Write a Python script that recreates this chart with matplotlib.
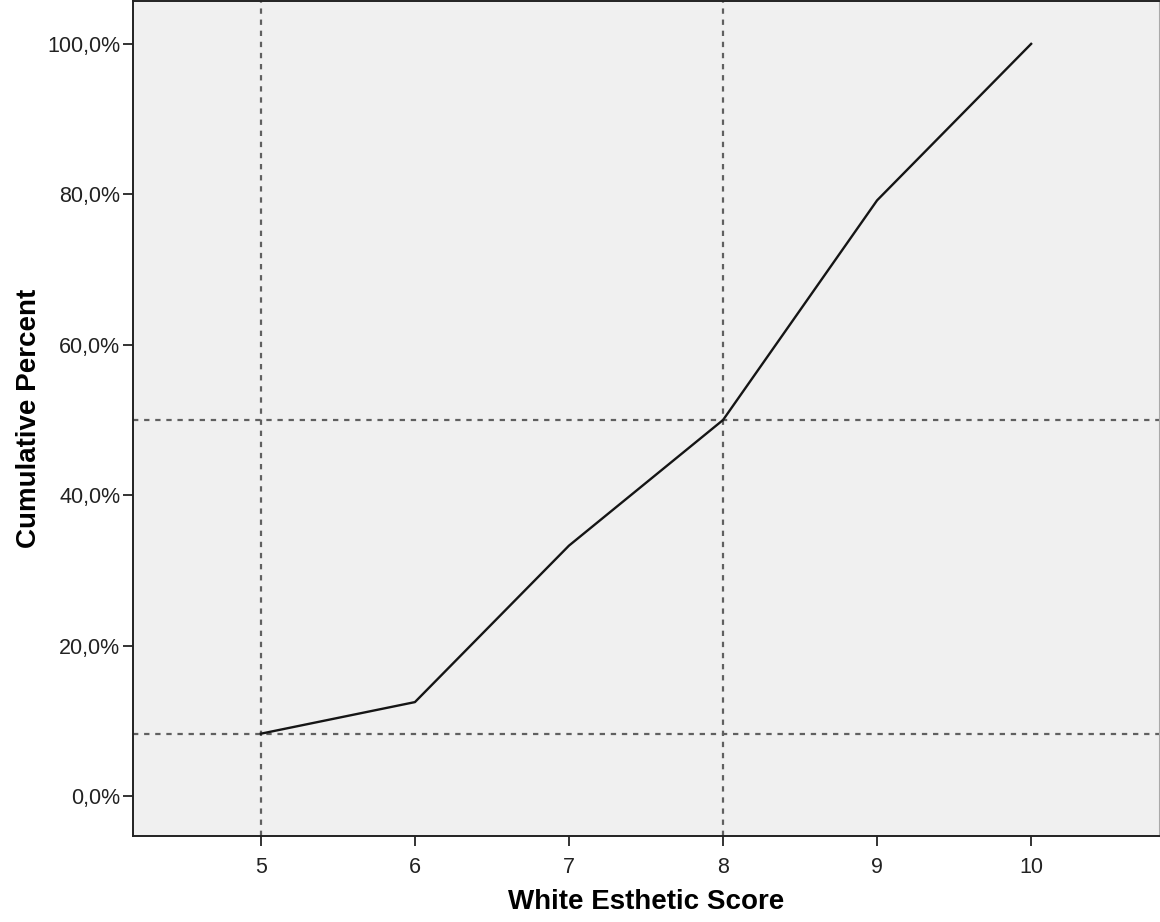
import matplotlib
matplotlib.use("Agg")
import matplotlib.pyplot as plt
from matplotlib.ticker import FuncFormatter

scores = [5, 6, 7, 8, 9, 10]
cum_percent = [8.3, 12.5, 33.3, 50.0, 79.2, 100.0]
ref_y = [50.0, 8.3]
ref_x = [5, 8]
y_ticks = [0, 20, 40, 60, 80, 100]

plt.rcParams['font.family'] = ['Liberation Sans', 'DejaVu Sans']

fig = plt.figure(figsize=(11.6, 9.22), dpi=100)
ax = fig.add_axes([133/1160, 86/922, 1026/1160, 835/922])
ax.set_facecolor('#f0f0f0')

for yv in ref_y:
    ax.axhline(yv, color='#606060', linestyle=(0, (2.4, 2.6)), linewidth=1.6, zorder=1)
for xv in ref_x:
    ax.axvline(xv, color='#606060', linestyle=(0, (2.4, 2.6)), linewidth=1.6, zorder=1)

ax.plot(scores, cum_percent, color='#151515', linewidth=1.7, zorder=2)

ax.set_xlim(4.17, 10.83)
ax.set_ylim(-5.3, 105.7)
ax.set_xticks(scores)
ax.set_yticks(y_ticks)
ax.yaxis.set_major_formatter(FuncFormatter(lambda v, p: f"{v:.1f}%".replace('.', ',')))
ax.tick_params(axis='both', labelsize=15.5, length=7, width=1.4, color='#333333',
               labelcolor='#222222')
ax.tick_params(axis='y', pad=2)
ax.tick_params(axis='x', pad=8)

for side in ['left', 'bottom', 'top']:
    ax.spines[side].set_color('#222222')
    ax.spines[side].set_linewidth(1.4)
ax.spines['right'].set_color('#aaaaaa')

ax.set_xlabel('White Esthetic Score', fontsize=20, fontweight='bold', labelpad=8)
ax.set_ylabel('Cumulative Percent', fontsize=20, fontweight='bold', labelpad=4)

fig.savefig('out.png', dpi=100, facecolor='white')
